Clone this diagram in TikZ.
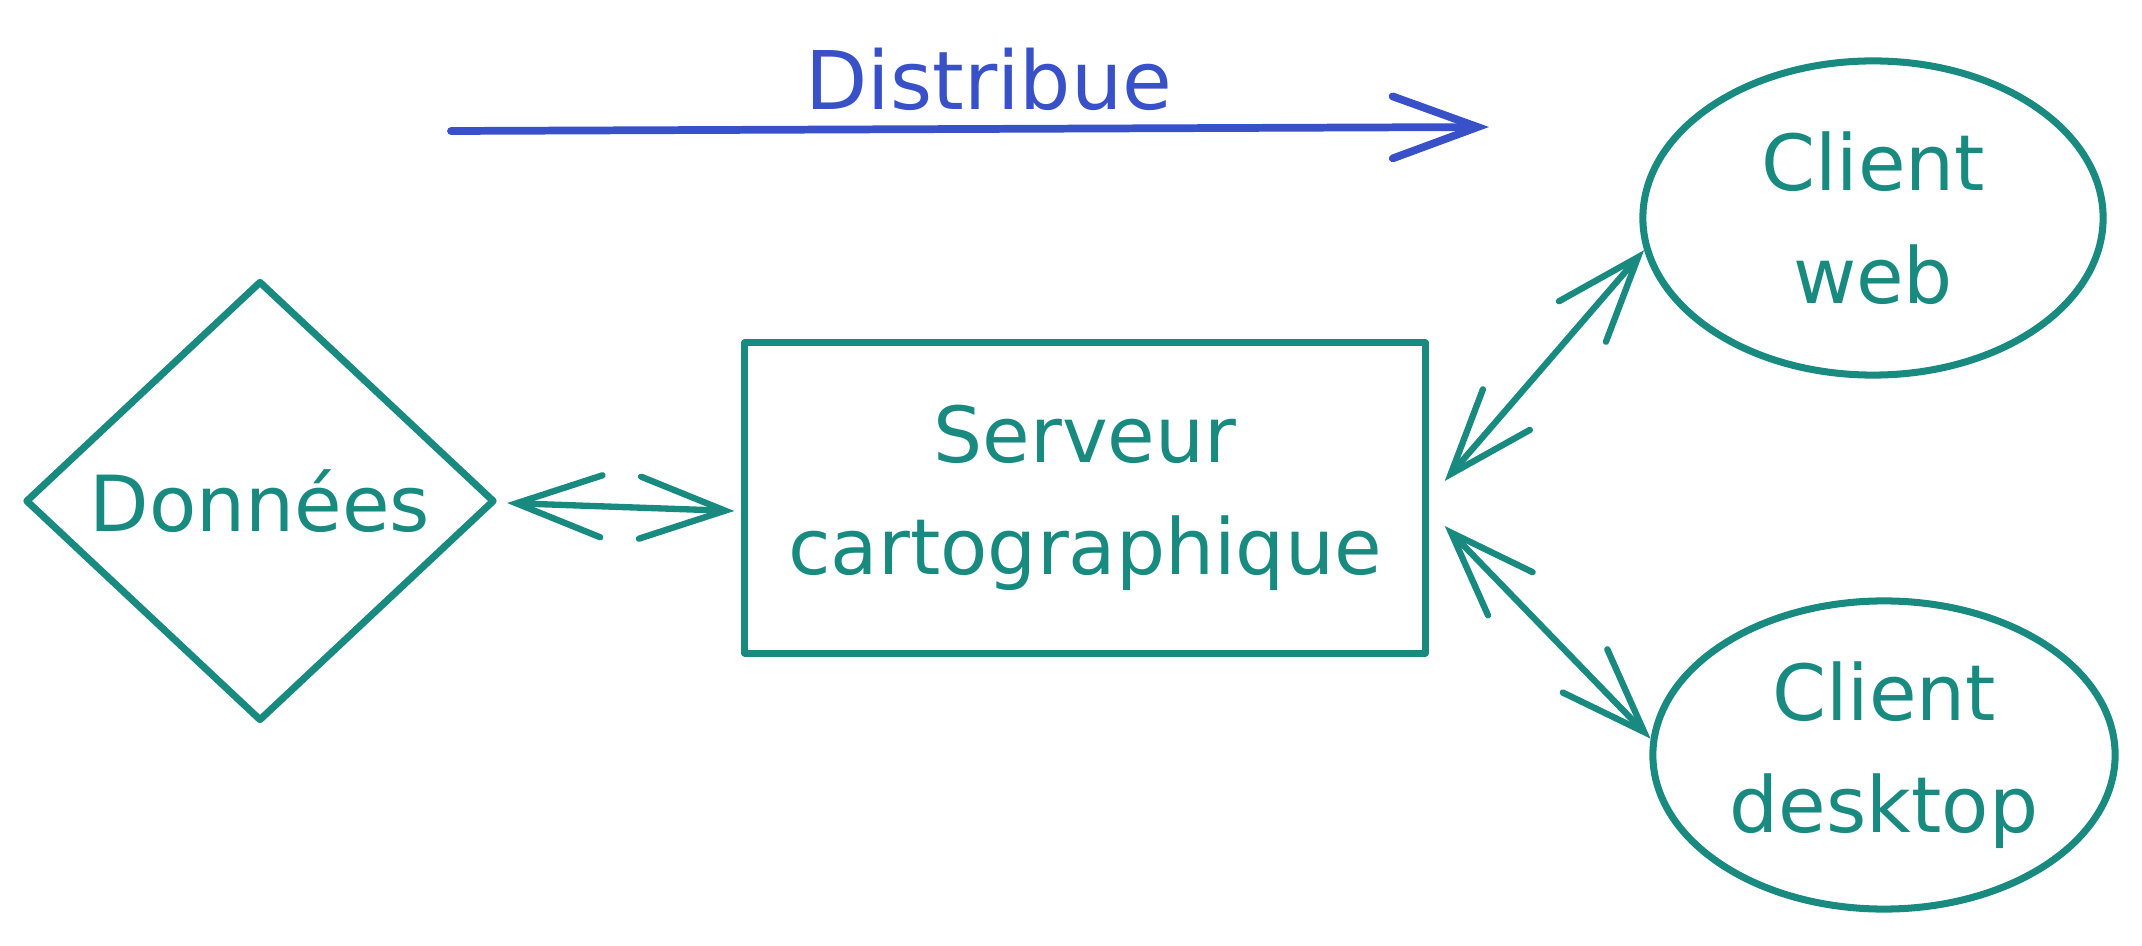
\documentclass[tikz,border=0pt]{standalone}
\usepackage{fontspec}
\setmainfont{DejaVu Sans}
\usetikzlibrary{shapes.geometric,arrows.meta}
\definecolor{tealc}{RGB}{24,138,128}
\definecolor{bluec}{RGB}{56,80,200}
\begin{document}
\begin{tikzpicture}[x=0.01cm,y=-0.01cm,
  shapeline/.style={draw=tealc,line width=2pt,line join=round,line cap=round},
  lbl/.style={text=tealc,font=\fontsize{22}{32}\selectfont,align=center},
  barb/.tip={Straight Barb[length=0.85cm,width=0.62cm,line cap=round]},
  conn/.style={draw=tealc,line width=1.8pt,line cap=round,line join=round,barb-barb},
  distarrow/.style={draw=bluec,line width=2.2pt,line cap=round,line join=round,-barb},
]
\path[use as bounding box] (0,0) rectangle (2142,946);

\node[shapeline,diamond,minimum width=4.69cm,minimum height=4.40cm,inner sep=0pt,lbl] (data) at (260,501) {Données};
\node[shapeline,rectangle,minimum width=6.8cm,minimum height=3.1cm,inner sep=0pt,lbl] (srv) at (1085,498) {Serveur\\cartographique};
\node[shapeline,ellipse,minimum width=4.6cm,minimum height=3.14cm,inner sep=0pt,lbl] (web) at (1873,218) {Client\\web};
\node[shapeline,ellipse,minimum width=4.62cm,minimum height=3.08cm,inner sep=0pt,lbl] (desk) at (1884,755) {Client\\desktop};

\coordinate (d1) at (451,131);
\coordinate (d2) at (1489,127);
\draw[distarrow] (d1) -- (d2);
\node[text=bluec,font=\fontsize{23}{30}\selectfont] (dist) at (989,79) {Distribue};

\draw[conn] ([xshift=0.09cm,yshift=-0.02cm]data.east) -- ([xshift=-0.07cm,yshift=-0.13cm]srv.west);
\draw[conn] ([xshift=0.16cm,yshift=0.17cm]srv.east) -- (web.188);
\draw[conn] ([xshift=0.16cm,yshift=-0.28cm]srv.east) -- (desk.176);
\end{tikzpicture}
\end{document}
